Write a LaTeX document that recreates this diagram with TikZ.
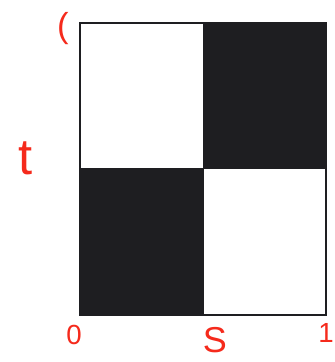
\documentclass[tikz,border=0pt]{standalone}
\usepackage{fontspec}
\setmainfont{Liberation Sans}
\usetikzlibrary{calc, positioning}

\definecolor{ink}{HTML}{1E1E21}
\definecolor{pen}{HTML}{F52A1C}

\begin{document}
\begin{tikzpicture}[x=0.75pt, y=-0.75pt,
    penmark/.style={text=pen, inner sep=0pt, font=\Large}]

% Fix the page to the reference size
\useasboundingbox (0,0) rectangle (335,362);

% Corners of the square and the point where it is split
\coordinate (ll) at (80,315);
\coordinate (ur) at (326,23);
\coordinate (mid) at (203,168);

% Black cells: top right and bottom left
\fill[ink] (mid) rectangle (ur);
\fill[ink] (ll) rectangle (mid);

% Outline and dividing lines
\draw[ink, line width=1.2pt] (ll) rectangle (ur);
\draw[ink, line width=0.6pt] (mid |- ur) -- (mid |- ll);
\draw[ink, line width=0.6pt] (ll |- mid) -- (ur |- mid);

% Handwritten marks along the axes
\node[penmark, font=\fontsize{26}{26}\selectfont] (top) at (63,29) {(};
\node[penmark, font=\fontsize{38}{38}\selectfont] (tee) at (26,158) {t};
\node[penmark, font=\huge] (zero) at (74,335) {0};
\node[penmark, font=\fontsize{27}{27}\selectfont] (half) at (215,340) {S};
\node[penmark, font=\huge] (one) at (326,333) {1};

\end{tikzpicture}
\end{document}
